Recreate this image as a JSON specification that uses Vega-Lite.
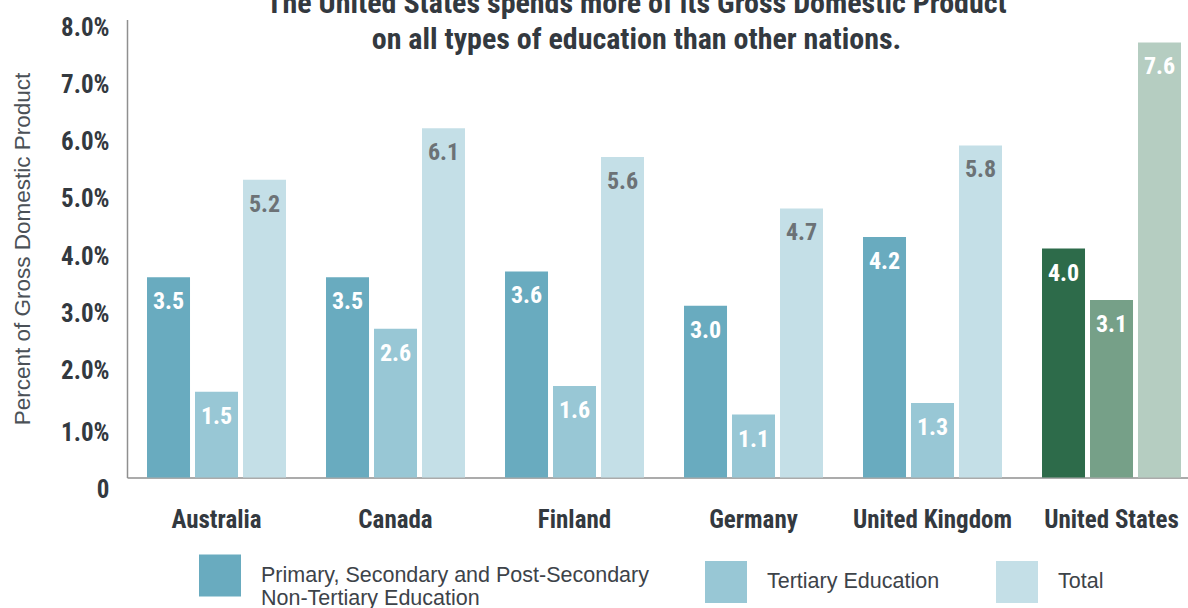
{
  "$schema": "https://vega.github.io/schema/vega-lite/v6.json",
  "autosize": {"type": "none"},
  "padding": {"left": 127, "top": 19.5, "right": 0, "bottom": 130.5},
  "width": 1061,
  "height": 458,
  "background": "white",
  "title": {
    "text": ["The United States spends more of its Gross Domestic Product", "on all types of education than other nations."],
    "font": "Roboto Condensed, sans-serif",
    "fontSize": 30,
    "fontWeight": "bold",
    "color": "#33393f",
    "anchor": "middle",
    "frame": "group",
    "dx": -21,
    "lineHeight": 36,
    "offset": -40
  },
  "data": {
    "values": [
      {"country": "Australia", "type": "Primary, Secondary and Post-Secondary Non-Tertiary Education", "value": 3.5},
      {"country": "Australia", "type": "Tertiary Education", "value": 1.5},
      {"country": "Australia", "type": "Total", "value": 5.2},
      {"country": "Canada", "type": "Primary, Secondary and Post-Secondary Non-Tertiary Education", "value": 3.5},
      {"country": "Canada", "type": "Tertiary Education", "value": 2.6},
      {"country": "Canada", "type": "Total", "value": 6.1},
      {"country": "Finland", "type": "Primary, Secondary and Post-Secondary Non-Tertiary Education", "value": 3.6},
      {"country": "Finland", "type": "Tertiary Education", "value": 1.6},
      {"country": "Finland", "type": "Total", "value": 5.6},
      {"country": "Germany", "type": "Primary, Secondary and Post-Secondary Non-Tertiary Education", "value": 3.0},
      {"country": "Germany", "type": "Tertiary Education", "value": 1.1},
      {"country": "Germany", "type": "Total", "value": 4.7},
      {"country": "United Kingdom", "type": "Primary, Secondary and Post-Secondary Non-Tertiary Education", "value": 4.2},
      {"country": "United Kingdom", "type": "Tertiary Education", "value": 1.3},
      {"country": "United Kingdom", "type": "Total", "value": 5.8},
      {"country": "United States", "type": "Primary, Secondary and Post-Secondary Non-Tertiary Education", "value": 4.0},
      {"country": "United States", "type": "Tertiary Education", "value": 3.1},
      {"country": "United States", "type": "Total", "value": 7.6}
    ]
  },
  "encoding": {
    "x": {
      "field": "country",
      "type": "nominal",
      "sort": ["Australia", "Canada", "Finland", "Germany", "United Kingdom", "United States"],
      "scale": {"paddingInner": 0.2235, "paddingOuter": 0.07545, "align": 0.741},
      "axis": {
        "title": null,
        "labelAngle": 0,
        "ticks": false,
        "domainColor": "#8f8f8f",
        "domainWidth": 1.5,
        "labelFont": "Roboto Condensed, sans-serif",
        "labelFontSize": 25,
        "labelFontWeight": "bold",
        "labelColor": "#33393f",
        "labelBaseline": "middle",
        "labelPadding": 41.5,
        "labelLimit": 300
      }
    },
    "xOffset": {
      "field": "type",
      "type": "nominal",
      "sort": ["Primary, Secondary and Post-Secondary Non-Tertiary Education", "Tertiary Education", "Total"],
      "scale": {"paddingInner": 0.104, "paddingOuter": 0}
    },
    "y": {
      "field": "value",
      "type": "quantitative",
      "scale": {"domain": [0, 8], "nice": false},
      "axis": {
        "title": "Percent of Gross Domestic Product",
        "titleFont": "Liberation Sans, Arial, sans-serif",
        "titleFontSize": 22.5,
        "titleFontWeight": "normal",
        "titleColor": "#4b5157",
        "titleX": -105,
        "titleY": 229,
        "titleBaseline": "middle",
        "titleAngle": -90,
        "values": [0, 1, 2, 3, 4, 5, 6, 7, 8],
        "labelExpr": "datum.value === 0 ? '0' : format(datum.value, '.1f') + '%'",
        "labelFont": "Roboto Condensed, sans-serif",
        "labelFontSize": 25,
        "labelFontWeight": "bold",
        "labelColor": "#33393f",
        "labelPadding": 18,
        "labelOffset": {"condition": {"test": "datum.value <= 1", "value": 12}, "value": 7.5},
        "ticks": false,
        "grid": false,
        "domainColor": "#8f8f8f",
        "domainWidth": 1.5
      }
    }
  },
  "layer": [
    {
      "transform": [{"filter": "datum.country !== 'United States'"}],
      "mark": {"type": "bar"},
      "encoding": {
        "color": {
          "field": "type",
          "type": "nominal",
          "scale": {
            "domain": ["Primary, Secondary and Post-Secondary Non-Tertiary Education", "Tertiary Education", "Total"],
            "range": ["#69abbf", "#98c7d5", "#c4dfe7"]
          },
          "legend": {
            "title": null,
            "orient": "none",
            "direction": "horizontal",
            "legendX": 72,
            "legendY": 535,
            "symbolType": "square",
            "symbolSize": 1764,
            "symbolStrokeWidth": 0,
            "labelFont": "Liberation Sans, Arial, sans-serif",
            "labelFontSize": 21.5,
            "labelColor": "#3d4349",
            "labelOffset": 20,
            "labelLimit": 600,
            "labelLineHeight": 28,
            "columnPadding": 56,
            "labelExpr": "datum.label === 'Primary, Secondary and Post-Secondary Non-Tertiary Education' ? ['Primary, Secondary and Post-Secondary', 'Non-Tertiary Education'] : datum.label"
          }
        }
      }
    },
    {
      "transform": [{"filter": "datum.country === 'United States'"}],
      "mark": {"type": "bar"},
      "encoding": {
        "color": {
          "field": "type",
          "type": "nominal",
          "scale": {
            "domain": ["Primary, Secondary and Post-Secondary Non-Tertiary Education", "Tertiary Education", "Total"],
            "range": ["#2d6b4a", "#76a088", "#b5cdc1"]
          },
          "legend": null
        }
      }
    },
    {
      "mark": {
        "type": "text",
        "baseline": "middle",
        "dy": 25,
        "font": "Roboto Condensed, sans-serif",
        "fontSize": 24,
        "fontWeight": "bold"
      },
      "encoding": {
        "text": {"field": "value", "type": "quantitative", "format": ".1f"},
        "color": {
          "condition": {"test": "datum.type === 'Total' && datum.country !== 'United States'", "value": "#6c7276"},
          "value": "white"
        }
      }
    }
  ],
  "resolve": {"scale": {"color": "independent"}},
  "config": {"view": {"stroke": null}}
}
